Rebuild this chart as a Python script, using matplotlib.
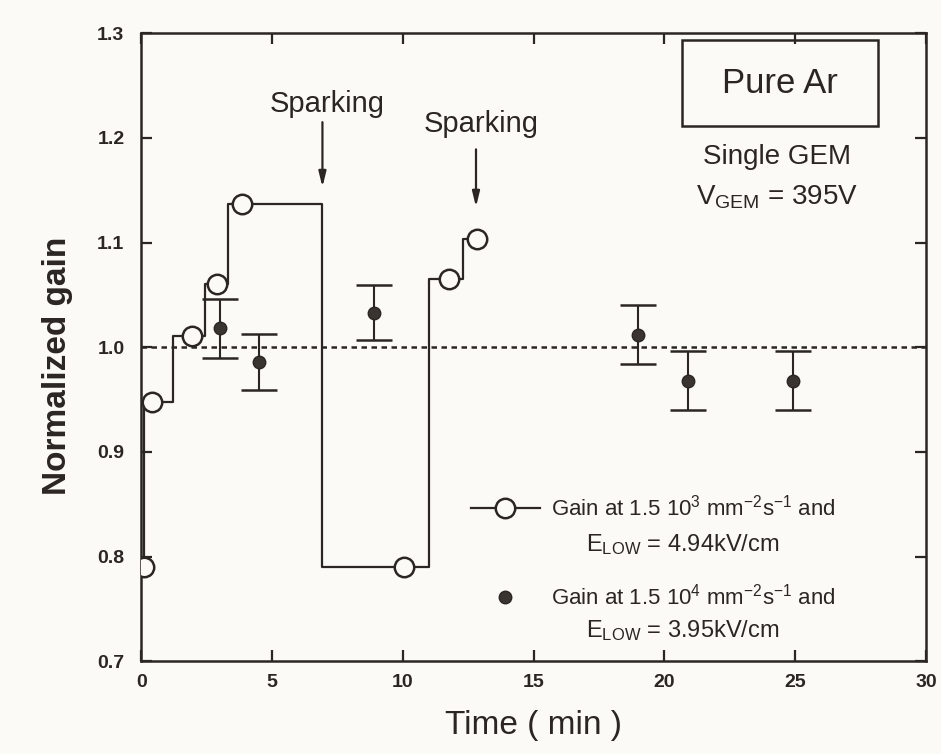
import matplotlib
matplotlib.use("Agg")
import matplotlib.pyplot as plt
from matplotlib.patches import Rectangle
from matplotlib.legend_handler import HandlerTuple

plt.rcParams['font.family'] = ['Liberation Sans', 'DejaVu Sans']
plt.rcParams['mathtext.fontset'] = 'custom'
plt.rcParams['mathtext.rm'] = 'Liberation Sans'
plt.rcParams['mathtext.it'] = 'Liberation Sans:italic'
plt.rcParams['mathtext.bf'] = 'Liberation Sans:bold'

# ---- data ----
# open circles: gain at 1.5e3 mm^-2 s^-1, E_LOW = 4.94 kV/cm
open_t = [0.1, 0.4, 1.95, 2.9, 3.85, 10.05, 11.75, 12.85]
open_g = [0.79, 0.948, 1.011, 1.06, 1.137, 0.79, 1.065, 1.103]
# times at which the step line jumps from one level to the next
step_t = [0.1, 1.2, 2.45, 3.33, 6.93, 11.0, 12.3]

# filled points with error bars: gain at 1.5e4 mm^-2 s^-1, E_LOW = 3.95 kV/cm
fill_t = [3.0, 4.5, 8.9, 19.0, 20.9, 24.9]
fill_g = [1.018, 0.986, 1.033, 1.012, 0.968, 0.968]
fill_err = [0.028, 0.027, 0.026, 0.028, 0.028, 0.028]

# sparking events: time, arrow tail gain, arrow tip gain, label gain
spark_t = [6.93, 12.8]
spark_tail = [1.215, 1.189]
spark_tip = [1.153, 1.134]
spark_label = [1.232, 1.213]

x_ticks = [0, 5, 10, 15, 20, 25, 30]
y_ticks = [0.7, 0.8, 0.9, 1.0, 1.1, 1.2, 1.3]
y_ticklabels = ['0.7', '0.8', '0.9', '1.0', '1.1', '1.2', '1.3']

# ---- style ----
BG = '#fbfaf6'
INK = '#2b2623'

fig = plt.figure(figsize=(9.41, 7.54), dpi=100, facecolor=BG)
ax = fig.add_axes([0.150, 0.123, 0.834, 0.833])
ax.set_facecolor(BG)

# step path built from circle levels and jump times
sx, sy = [open_t[0]], [open_g[0]]
for i, tj in enumerate(step_t):
    sx += [tj, tj]
    sy += [open_g[i], open_g[i + 1]]
    sx.append(open_t[i + 1])
    sy.append(open_g[i + 1])
step_line, = ax.plot(sx, sy, color=INK, lw=1.6, zorder=3)
circ_line, = ax.plot(open_t, open_g, 'o', ms=14, mfc=BG, mec=INK, mew=1.8,
                     ls='none', zorder=4)

# reference line at 1.0
ax.axhline(1.0, color=INK, lw=1.8, ls=(0, (2.2, 1.8)), zorder=2)

eb = ax.errorbar(fill_t, fill_g, yerr=fill_err, fmt='o', ms=9, color='#3a3430',
                 mec='#2b2623', ecolor=INK, elinewidth=1.5, capsize=13,
                 capthick=1.8, zorder=5)

# sparking annotations
for t, tail, tip, lab in zip(spark_t, spark_tail, spark_tip, spark_label):
    ax.annotate('', xy=(t, tip), xytext=(t, tail),
                arrowprops=dict(arrowstyle='-|>,head_length=0.9,head_width=0.22',
                                color=INK, lw=1.6, shrinkA=0, shrinkB=0))
    ax.text(t + 0.2, lab, 'Sparking', ha='center', va='center', fontsize=21,
            color=INK)

# axes
ax.set_xlim(0, 30)
ax.set_ylim(0.7, 1.3)
ax.set_xticks(x_ticks)
ax.set_yticks(y_ticks)
ax.set_yticklabels(y_ticklabels)
ax.tick_params(direction='in', length=8, width=1.6, color=INK,
               top=True, right=True, labelsize=14, labelcolor=INK)
ax.tick_params(axis='x', pad=9)
ax.tick_params(axis='y', pad=12)
for lab in ax.get_xticklabels() + ax.get_yticklabels():
    lab.set_fontweight('bold')
for sp in ax.spines.values():
    sp.set_linewidth(1.8)
    sp.set_color(INK)

ax.set_xlabel('Time ( min )', fontsize=24, color=INK, labelpad=14)
ax.set_ylabel('Normalized gain', fontsize=24, color=INK, fontweight='bold')
ax.yaxis.set_label_coords(-0.087, 0.47)

# info box
ax.add_patch(Rectangle((0.689, 0.852), 0.250, 0.137, transform=ax.transAxes,
                       fill=False, ec=INK, lw=1.8, zorder=6))
ax.text(0.814, 0.920, 'Pure Ar', transform=ax.transAxes, ha='center',
        va='center', fontsize=25, color=INK)
ax.text(0.810, 0.803, 'Single GEM', transform=ax.transAxes, ha='center',
        va='center', fontsize=20, color=INK)
ax.text(0.810, 0.739, r'$\mathregular{V_{GEM}}$ = 395V', transform=ax.transAxes,
        ha='center', va='center', fontsize=20, color=INK)

# legend
leg = ax.legend([(step_line, circ_line), eb[0]],
                [r'Gain at 1.5 10$^3$ mm$^{-2}$s$^{-1}$ and',
                 r'Gain at 1.5 10$^4$ mm$^{-2}$s$^{-1}$ and'],
                handler_map={tuple: HandlerTuple(ndivide=1)},
                loc='upper left', bbox_to_anchor=(0.42, 0.265), frameon=False,
                fontsize=16, handlelength=3.1, handletextpad=0.5,
                borderpad=0, borderaxespad=0, labelspacing=2.85, labelcolor=INK)
ax.text(0.69, 0.186, r'$\mathregular{E_{LOW}}$ = 4.94kV/cm', transform=ax.transAxes,
        ha='center', va='center', fontsize=17, color=INK)
ax.text(0.69, 0.049, r'$\mathregular{E_{LOW}}$ = 3.95kV/cm', transform=ax.transAxes,
        ha='center', va='center', fontsize=17, color=INK)

fig.savefig('out.png', dpi=100, facecolor=BG)
